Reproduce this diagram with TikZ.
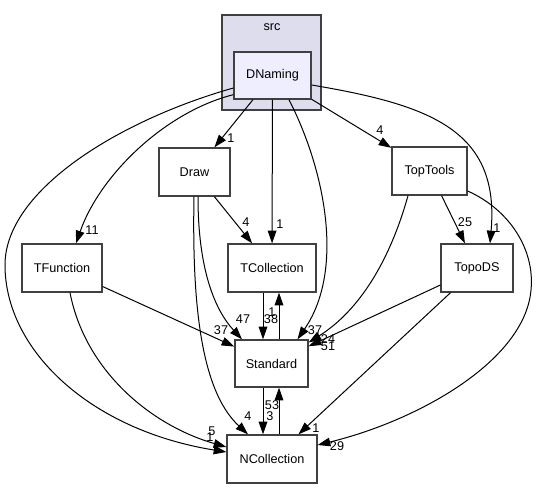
\documentclass[tikz,border=0pt]{standalone}
\usepackage{fontspec}
\setmainfont{Liberation Sans}
\usetikzlibrary{arrows.meta,calc}

\begin{document}
\begin{tikzpicture}[x=0.75pt,y=-0.75pt,
  dir/.style={draw=black!75, line width=1pt, fill=white, inner sep=0pt, minimum height=36pt, font=\fontsize{9.5}{11}\selectfont},
  num/.style={inner sep=0pt, font=\fontsize{9.5}{11}\selectfont},
  dep/.style={black, line width=0.75pt, -{Triangle[length=9.5pt,width=6.5pt]}}]

\useasboundingbox (0,0) rectangle (538,489);

% cluster src
\draw[draw=black!75, line width=1pt, fill={rgb,255:red,221;green,221;blue,238}] (222,15) rectangle (321,110);
\node[num] (src) at (272,27) {src};

% directories
\node[dir, fill={rgb,255:red,238;green,238;blue,255}, minimum width=57.75pt, minimum height=35.25pt] (dn) at (272.5,75.5) {DNaming};
\node[dir, minimum width=53.25pt] (draw) at (194.5,172) {Draw};
\node[dir, minimum width=56.25pt] (toptools) at (429.5,171) {TopTools};
\node[dir, minimum width=60pt] (tfunc) at (62,268) {TFunction};
\node[dir, minimum width=66pt] (tcoll) at (272,268) {TCollection};
\node[dir, minimum width=54pt] (topods) at (477,268) {TopoDS};
\node[dir, minimum width=54.75pt, minimum height=35.25pt] (std) at (271.5,363.5) {Standard};
\node[dir, minimum width=67.5pt] (ncoll) at (272,459) {NCollection};

% dependencies of DNaming
\draw[dep] (dn) -- (draw);
\draw[dep] (dn) -- (tcoll);
\draw[dep] (dn) -- (toptools);
\draw[dep] ($(dn.south)+(16.5,0)$) .. controls (325,170) and (345,270) .. ($(std.north)+(26,0)$);
\draw[dep] ($(dn.east)+(0,9.5)$) .. controls (430,105) and (500,130) .. ($(topods.north)+(13,0)$);
\draw[dep] ($(dn.south west)+(0,-5)$) .. controls (165,112) and (100,175) .. ($(tfunc.north)+(14,0)$);
\draw[dep] ($(dn.west)+(0,12.5)$) .. controls (120,120) and (5,190) .. (5,265)
   .. controls (5,350) and (90,430) .. ($(ncoll.west)+(0,-7)$);

% the others
\draw[dep] ($(tfunc.south)+(8,0)$) .. controls (85,370) and (150,425) .. ($(ncoll.west)+(0,-12)$);
\draw[dep] (tfunc) -- (std);
\draw[dep] (draw) -- (tcoll);
\draw[dep] ($(draw.south)+(3.5,0)$) .. controls (198,270) and (215,310) .. ($(std.north)+(-29.5,0)$);
\draw[dep] ($(draw.south)+(-0.5,0)$) .. controls (192,300) and (200,390) .. ($(ncoll.north)+(-24,0)$);
\draw[dep] ($(tcoll.south)+(-9,0)$) -- ($(std.north)+(-8.5,0)$);
\draw[dep] ($(std.north)+(7.5,0)$) -- ($(tcoll.south)+(7,0)$);
\draw[dep] ($(std.south)+(-8.5,0)$) -- ($(ncoll.north)+(-9,0)$);
\draw[dep] ($(ncoll.north)+(7,0)$) -- ($(std.south)+(7.5,0)$);
\draw[dep] (toptools) -- (topods);
\draw[dep] ($(toptools.south)+(-21.5,0)$) .. controls (390,260) and (360,310) .. ($(std.east)+(0,-21)$);
\draw[dep] ($(toptools.east)+(0,20)$) .. controls (510,210) and (535,250) .. (531,290)
   .. controls (525,360) and (420,420) .. ($(ncoll.east)+(0,-14)$);
\draw[dep] (topods) -- (std);
\draw[dep] (topods) -- (ncoll);

% edge counts
\node[num] (c1) at (231,138) {1};
\node[num] (c2) at (280,224) {1};
\node[num] (c3) at (315,330) {37};
\node[num] (c4) at (380,130) {4};
\node[num] (c5) at (497,228) {1};
\node[num] (c6) at (92,230) {11};
\node[num] (c7) at (210,437) {1};
\node[num] (c8) at (212,431) {5};
\node[num] (c9) at (221,330) {37};
\node[num] (c10) at (246,222) {4};
\node[num] (c11) at (243,319) {47};
\node[num] (c12) at (248,416) {4};
\node[num] (c13) at (271,319) {38};
\node[num] (c14) at (272,312) {1};
\node[num] (c15) at (272,405) {53};
\node[num] (c16) at (270,416) {3};
\node[num] (c17) at (328,339) {24};
\node[num] (c18) at (465,222) {25};
\node[num] (c19) at (328,346) {51};
\node[num] (c20) at (316,428) {1};
\node[num] (c21) at (337,446) {29};

\end{tikzpicture}
\end{document}
